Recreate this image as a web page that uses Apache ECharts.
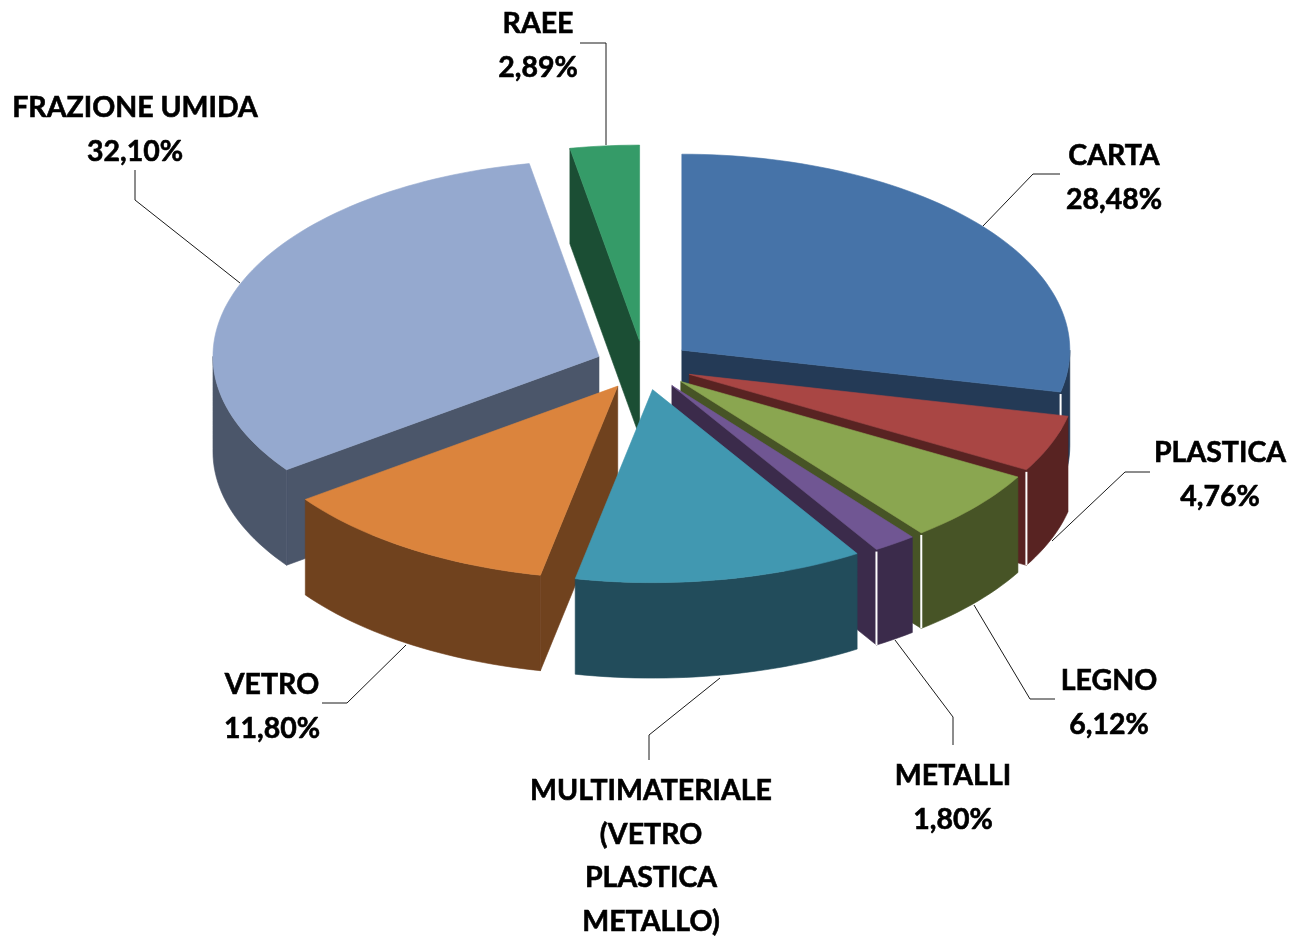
<!DOCTYPE html>
<html>
<head>
<meta charset="utf-8">
<style>html,body{margin:0;padding:0;background:#fff}#c{width:1289px;height:936px}</style>
<script src="https://cdn.jsdelivr.net/npm/echarts@6/dist/echarts.min.js"></script>
</head>
<body>
<div id="c"></div>
<script>
// Data, clockwise from 12 o'clock
const categories = ['CARTA','PLASTICA','LEGNO','METALLI','MULTIMATERIALE','VETRO','FRAZIONE UMIDA','RAEE'];
const values = [28.48, 4.76, 6.12, 1.80, 12.05, 11.80, 32.10, 2.89];
const labelLines = [
  ['CARTA','28,48%'],
  ['PLASTICA','4,76%'],
  ['LEGNO','6,12%'],
  ['METALLI','1,80%'],
  ['MULTIMATERIALE','(VETRO','PLASTICA','METALLO)'],
  ['VETRO','11,80%'],
  ['FRAZIONE UMIDA','32,10%'],
  ['RAEE','2,89%']
];
const topColors  = ['#4673A8','#A94644','#8AA650','#705693','#4198B1','#DB843D','#95A9CF','#359B68'];
const sideColors = ['#243A56','#582322','#475426','#3B2B4B','#224C5B','#70421E','#4B566A','#1B4E34'];
const drawOrder  = [7,6,0,1,2,3,5,4];

// Pie geometry
const cx = 644, cy = 365.5, rxRight = 388, rxLeft = 386, ryBack = 196, ryFront = 193, depth = 95.5, explode = 0.125;

// Label anchors and leader lines
const labelPos = [[1114,156],[1220,453],[1109,681],[953,776],[651,791],[272,685],[135,108],[538,24]];
const leaders = [
  [[983,226],[1033,174],[1060,174]],
  [[1052,541],[1125,472],[1150,472]],
  [[974,605],[1030,699],[1055,699]],
  [[895,640],[953,717],[953,745]],
  [[720,678],[649,735],[649,760]],
  [[406,645],[347,703],[322,703]],
  [[240,283],[135,200],[135,170]],
  [[606,145],[606,43],[580,43]]
];
const lineHeight = 43.6;
const font = 'bold 28.5px Lato, "Open Sans", sans-serif';

const total = values.reduce((a,b)=>a+b,0);
const spans = [];
values.reduce((acc,v)=>{ const next = acc + v/total*360; spans.push([acc,next]); return next; },0);
const rad = d => d*Math.PI/180;

function renderItem(params, api){
  const i = api.value(0);
  const [a0,a1] = spans[i];
  const mid = rad((a0+a1)/2);
  const ax = cx + explode*rxRight*Math.sin(mid);
  const ay = cy - explode*ryBack*Math.cos(mid);
  const pt = (d,dz=0)=>{
    const s = Math.sin(rad(d)), c = Math.cos(rad(d));
    return [ax + (s<0?rxLeft:rxRight)*s, ay - (c<0?ryFront:ryBack)*c + dz];
  };
  const arc = (from,to,dz=0)=>{
    const n = Math.max(2,Math.ceil((to-from)/1.5)), out=[];
    for(let k=0;k<=n;k++) out.push(pt(from+(to-from)*k/n,dz));
    return out;
  };
  const kids = [];
  const poly = (points,fill)=>kids.push({type:'polygon',shape:{points},style:{fill,stroke:fill,lineWidth:0.6}});
  // radial side faces
  if(a1<180){
    const p=pt(a1);
    poly([[ax,ay],p,[p[0],p[1]+depth],[ax,ay+depth]],sideColors[i]);
  }
  if(a0>180){
    const p=pt(a0);
    poly([[ax,ay],p,[p[0],p[1]+depth],[ax,ay+depth]],sideColors[i]);
  }
  // outer wall (front half only)
  const w0=Math.max(a0,90), w1=Math.min(a1,270);
  if(w1>w0){
    poly(arc(w0,w1).concat(arc(w0,w1,depth).reverse()),sideColors[i]);
  }
  // corner seam between radial face and outer wall
  if(a1<180){
    const p=pt(a1);
    kids.push({type:'line',shape:{x1:p[0],y1:p[1]+2,x2:p[0],y2:p[1]+depth},style:{stroke:'#fff',lineWidth:2}});
  }
  // top
  poly([[ax,ay]].concat(arc(a0,a1)),topColors[i]);
  // leader
  kids.push({type:'polyline',shape:{points:leaders[i]},style:{fill:null,stroke:'#1a1a1a',lineWidth:1}});
  // label
  kids.push({type:'text',style:{
    text:labelLines[i].join('\n'),
    x:labelPos[i][0], y:labelPos[i][1]-lineHeight/2,
    align:'center', verticalAlign:'top',
    font:font, lineHeight:lineHeight, fill:'#000', stroke:'#000', lineWidth:0.6
  }});
  return {type:'group',children:kids};
}

const chart = echarts.init(document.getElementById('c'),null,{renderer:'canvas'});
chart.setOption({
  animation:false,
  backgroundColor:'#fff',
  series:[{
    type:'custom',
    coordinateSystem:'none',
    renderItem:renderItem,
    silent:true,
    data:drawOrder.map(i=>({name:categories[i],value:[i,values[i]]}))
  }]
});
</script>
</body>
</html>
